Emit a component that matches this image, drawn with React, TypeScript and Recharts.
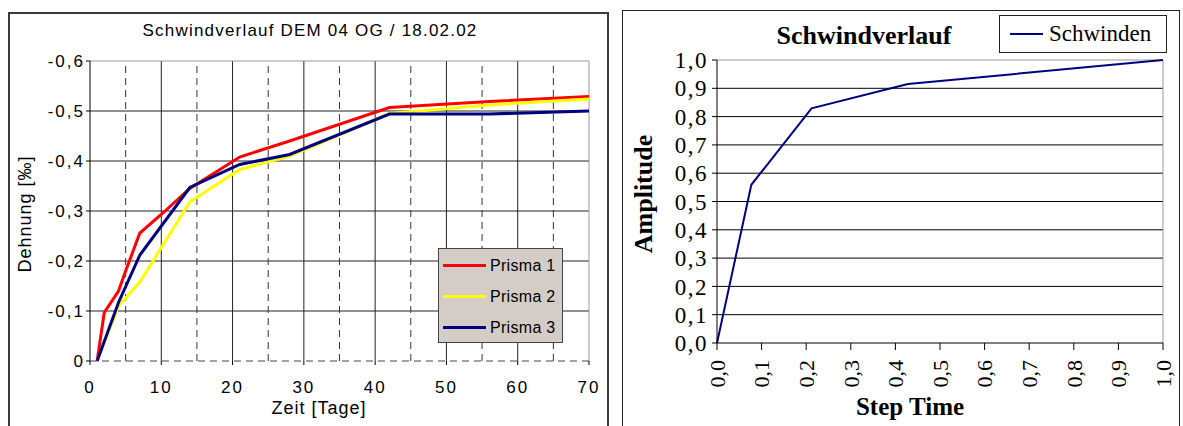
import React from "react";
import { LineChart, Line, XAxis, YAxis, CartesianGrid, ReferenceLine, Legend } from "recharts";

// left chart: shrinkage of three prisms (days / strain in ‰)
const DAYS_P1 = [1, 2, 4, 5, 7, 10, 14, 21, 28, 42, 56, 70];
const STRAIN_P1 = [0, -0.097, -0.14, -0.18, -0.256, -0.293, -0.345, -0.408, -0.44, -0.507, -0.519, -0.529];
const DAYS_P2 = [1, 4, 7, 14, 21, 28, 42, 56, 70];
const STRAIN_P2 = [0, -0.11, -0.158, -0.318, -0.383, -0.41, -0.495, -0.512, -0.524];
const DAYS_P3 = [1, 4, 7, 14, 21, 28, 42, 56, 70];
const STRAIN_P3 = [0, -0.117, -0.212, -0.347, -0.393, -0.413, -0.494, -0.494, -0.5];

const DAY_TICKS = [0, 10, 20, 30, 40, 50, 60, 70];
const DAY_DASHED = [5, 15, 25, 35, 45, 55, 65];
const STRAIN_TICKS = [0, -0.1, -0.2, -0.3, -0.4, -0.5, -0.6];
const STRAIN_GRID = [-0.1, -0.2, -0.3, -0.4, -0.5];

// right chart: normalised shrinkage curve
const STEP_TIME = [0, 0.077, 0.212, 0.428, 1.0];
const AMPLITUDE = [0, 0.559, 0.829, 0.915, 1.0];
const UNIT_TICKS = [0, 0.1, 0.2, 0.3, 0.4, 0.5, 0.6, 0.7, 0.8, 0.9, 1.0];
const UNIT_GRID = [0.1, 0.2, 0.3, 0.4, 0.5, 0.6, 0.7, 0.8, 0.9];

const SANS = "'Liberation Sans', Arial, sans-serif";
const SERIF = "'Liberation Serif', 'Times New Roman', serif";

const zip = (xs: number[], ys: number[], kx: string, ky: string) =>
  xs.map((x, i) => ({ [kx]: x, [ky]: ys[i] }));

const PRISMS = [
  { name: "Prisma 1", color: "#ff0000", data: zip(DAYS_P1, STRAIN_P1, "day", "strain") },
  { name: "Prisma 2", color: "#ffff00", data: zip(DAYS_P2, STRAIN_P2, "day", "strain") },
  { name: "Prisma 3", color: "#000080", data: zip(DAYS_P3, STRAIN_P3, "day", "strain") },
];

const shrinkData = zip(STEP_TIME, AMPLITUDE, "t", "amp");

const comma = (v: number) => v.toFixed(1).replace(".", ",");
const strainFmt = (v: number) => (v === 0 ? "0" : comma(v));

const PrismaLegend = () => (
  <div
    style={{
      background: "#d4cdc7",
      border: "1px solid #444",
      width: 125,
      height: 95,
      boxSizing: "border-box",
      padding: "1px 0 0 4px",
      fontFamily: SANS,
    }}
  >
    {PRISMS.map((p) => (
      <div key={p.name} style={{ display: "flex", alignItems: "center", height: 31 }}>
        <span style={{ display: "inline-block", width: 43, height: 3, background: p.color, marginRight: 4 }} />
        <span style={{ fontSize: 16, color: "#000", letterSpacing: 0.3 }}>{p.name}</span>
      </div>
    ))}
  </div>
);

const RotatedTick = (props: any) => {
  const { x, y, payload } = props;
  return (
    <text
      x={0}
      y={0}
      transform={`translate(${x},${y}) rotate(-90)`}
      textAnchor="end"
      dy="0.35em"
      fill="#000"
      fontSize={22}
      fontFamily={SERIF}
    >
      {comma(payload.value)}
    </text>
  );
};

const label = (
  text: string,
  cx: number,
  cy: number,
  font: string,
  size: number,
  bold = false,
  rotate = false,
  spacing = 0
) => (
  <div
    style={{
      position: "absolute",
      left: cx - 300,
      top: cy - 15,
      width: 600,
      height: 30,
      lineHeight: "30px",
      textAlign: "center",
      fontFamily: font,
      fontSize: size,
      fontWeight: bold ? "bold" : "normal",
      letterSpacing: spacing,
      color: "#000",
      transform: rotate ? "rotate(-90deg)" : undefined,
      whiteSpace: "nowrap",
    }}
  >
    {text}
  </div>
);

const leftTick = { fill: "#000", fontSize: 17, fontFamily: SANS, letterSpacing: 2 };

export default function App() {
  return (
    <div
      style={{
        position: "absolute",
        left: 0,
        top: 0,
        width: 1183,
        height: 426,
        background: "#fff",
        overflow: "hidden",
      }}
    >
      {/* left panel frame */}
      <div
        style={{
          position: "absolute",
          left: 8,
          top: 12,
          width: 597,
          height: 430,
          border: "2px solid #3a3a3a",
        }}
      />
      <div style={{ position: "absolute", left: 9, top: 13 }}>
        <LineChart width={597} height={413} margin={{ top: 48, right: 17, left: 31, bottom: 35 }}>
          <CartesianGrid verticalValues={DAY_TICKS.slice(1, -1)} horizontalValues={STRAIN_GRID} stroke="#222" />
          {DAY_DASHED.map((d) => (
            <ReferenceLine key={d} x={d} stroke="#333" strokeDasharray="7 5" />
          ))}
          <ReferenceLine y={-0.6} stroke="#999" />
          <ReferenceLine x={70} stroke="#999" />
          <XAxis
            dataKey="day"
            type="number"
            domain={[0, 70]}
            ticks={DAY_TICKS}
            interval={0}
            allowDuplicatedCategory={false}
            height={30}
            tickSize={4}
            tickMargin={16}
            axisLine={{ stroke: "#444", strokeDasharray: "7 5" }}
            tickLine={{ stroke: "#000" }}
            tick={leftTick}
          />
          <YAxis
            dataKey="strain"
            type="number"
            domain={[-0.6, 0]}
            reversed
            ticks={STRAIN_TICKS}
            interval={0}
            width={50}
            tickSize={4}
            tickMargin={1}
            tickFormatter={strainFmt}
            axisLine={{ stroke: "#000" }}
            tickLine={{ stroke: "#000" }}
            tick={leftTick}
          />
          {PRISMS.map((p) => (
            <Line
              key={p.name}
              data={p.data}
              dataKey="strain"
              name={p.name}
              type="linear"
              stroke={p.color}
              strokeWidth={3}
              dot={false}
              isAnimationActive={false}
            />
          ))}
          <Legend
            layout="vertical"
            align="center"
            verticalAlign="middle"
            content={<PrismaLegend />}
            wrapperStyle={{ position: "absolute", left: 429, top: 235, width: 125 }}
          />
        </LineChart>
      </div>
      {label("Schwindverlauf DEM 04 OG / 18.02.02", 310, 31, SANS, 17, false, false, 1.2)}
      {label("Dehnung [‰]", 25, 214, SANS, 18, false, true, 1)}
      {label("Zeit [Tage]", 319, 408, SANS, 18, false, false, 1)}

      {/* right panel frame */}
      <div
        style={{
          position: "absolute",
          left: 622,
          top: 10,
          width: 556,
          height: 430,
          border: "1px solid #222",
        }}
      />
      <div style={{ position: "absolute", left: 622, top: 10 }}>
        <LineChart width={556} height={416} data={shrinkData} margin={{ top: 50, right: 15, left: 35, bottom: 23 }}>
          <CartesianGrid vertical={false} horizontalValues={UNIT_GRID} stroke="#000" />
          <ReferenceLine y={1} stroke="#999" />
          <ReferenceLine x={1} stroke="#999" />
          <XAxis
            dataKey="t"
            type="number"
            domain={[0, 1]}
            ticks={UNIT_TICKS}
            interval={0}
            height={60}
            tickSize={7}
            tickMargin={10}
            axisLine={{ stroke: "#000" }}
            tickLine={{ stroke: "#000" }}
            tick={<RotatedTick />}
          />
          <YAxis
            dataKey="amp"
            type="number"
            domain={[0, 1]}
            ticks={UNIT_TICKS}
            interval={0}
            width={60}
            tickSize={5}
            tickMargin={4}
            tickFormatter={comma}
            axisLine={{ stroke: "#000" }}
            tickLine={{ stroke: "#000" }}
            tick={{ fill: "#000", fontSize: 23, fontFamily: SERIF, letterSpacing: 1.5 }}
          />
          <Line
            dataKey="amp"
            name="Schwinden"
            type="linear"
            stroke="#000080"
            strokeWidth={2}
            dot={false}
            isAnimationActive={false}
          />
        </LineChart>
      </div>
      <div
        style={{
          position: "absolute",
          left: 999,
          top: 15,
          width: 168,
          height: 38,
          boxSizing: "border-box",
          border: "1px solid #222",
          background: "#fff",
          display: "flex",
          alignItems: "center",
          fontFamily: SERIF,
          fontSize: 23,
        }}
      >
        <span style={{ display: "inline-block", width: 33, height: 2, background: "#000080", margin: "0 6px 0 10px" }} />
        <span>Schwinden</span>
      </div>
      {label("Schwindverlauf", 864, 36, SERIF, 26, true)}
      {label("Amplitude", 644, 194, SERIF, 26, true, true)}
      {label("Step Time", 910, 407, SERIF, 25, true)}
    </div>
  );
}
